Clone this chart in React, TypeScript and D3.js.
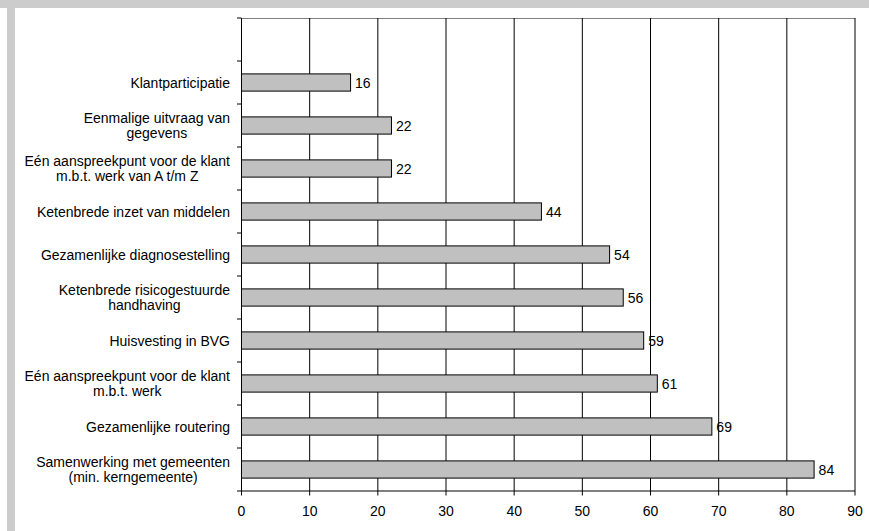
import React from "react";
import * as d3 from "d3";

const categories: string[] = [
  "Klantparticipatie",
  "Eenmalige uitvraag van\ngegevens",
  "Eén aanspreekpunt voor de klant\nm.b.t. werk van A t/m Z",
  "Ketenbrede inzet van middelen",
  "Gezamenlijke diagnosestelling",
  "Ketenbrede risicogestuurde\nhandhaving",
  "Huisvesting in BVG",
  "Eén aanspreekpunt voor de klant\nm.b.t. werk",
  "Gezamenlijke routering",
  "Samenwerking met gemeenten\n(min. kerngemeente)",
];
const values: number[] = [16, 22, 22, 44, 54, 56, 59, 61, 69, 84];
const xTicks: number[] = [0, 10, 20, 30, 40, 50, 60, 70, 80, 90];

const W = 869;
const H = 531;
const FONT = "'Liberation Sans', Arial, sans-serif";
const FS = 14;

let ctx: CanvasRenderingContext2D | null = null;
function textWidth(s: string): number {
  if (!ctx) {
    const c = document.createElement("canvas");
    ctx = c.getContext("2d");
  }
  if (!ctx) return s.length * 7;
  ctx.font = `${FS}px ${FONT}`;
  return ctx.measureText(s).width;
}

export default function App() {
  const left = 241.5;
  const right = 855;
  const top = 18;
  const bottom = 491;

  const x = d3.scaleLinear().domain([0, 90]).range([left, right]);
  const domain = ["__empty__", ...categories];
  const y = d3.scaleBand<string>().domain(domain).range([top, bottom]).padding(0);
  const bw = y.bandwidth();
  const barH = bw * 0.4;
  const boundaries = d3.range(domain.length + 1).map((i) => top + i * bw);
  const labelRight = 230;
  const lineH = 15;

  return (
    <svg
      width={W}
      height={H}
      style={{ position: "absolute", left: 0, top: 0, background: "#fff" }}
      fontFamily={FONT}
    >
      <rect x={0} y={0} width={W} height={H} fill="#fff" />
      <rect x={0} y={0} width={W} height={8} fill="#cccccc" />
      <rect x={7} y={0} width={8} height={H} fill="#cccccc" />

      {/* top border */}
      <line x1={left} x2={right} y1={top + 0.5} y2={top + 0.5} stroke="#808080" strokeWidth={1} />

      {/* vertical gridlines */}
      {xTicks.filter((t) => t > 0).map((t) => (
        <line key={"g" + t} x1={x(t)} x2={x(t)} y1={top} y2={bottom} stroke="#000" strokeWidth={1} />
      ))}

      {/* bars */}
      {categories.map((c, i) => {
        const yc = (y(c) as number) + bw / 2;
        return (
          <g key={"b" + i}>
            <rect
              x={x(0)}
              y={yc - barH / 2}
              width={x(values[i]) - x(0)}
              height={barH}
              fill="#c0c0c0"
              stroke="#000"
              strokeWidth={1}
            />
            <text x={x(values[i]) + 4.5} y={yc + 5} fontSize={FS} fill="#000">
              {values[i]}
            </text>
          </g>
        );
      })}

      {/* y axis */}
      <line x1={left} x2={left} y1={top} y2={bottom} stroke="#000" strokeWidth={1} />
      {boundaries.map((b, i) => (
        <line key={"yt" + i} x1={left - 4.5} x2={left} y1={b} y2={b} stroke="#000" strokeWidth={1} />
      ))}

      {/* x axis */}
      <line x1={left} x2={right} y1={bottom} y2={bottom} stroke="#000" strokeWidth={1} />
      {xTicks.map((t) => (
        <g key={"xt" + t}>
          <line x1={x(t)} x2={x(t)} y1={bottom} y2={bottom + 4.5} stroke="#000" strokeWidth={1} />
          <text x={x(t)} y={bottom + 25} fontSize={FS} textAnchor="middle" fill="#000">
            {t}
          </text>
        </g>
      ))}

      {/* category labels */}
      {categories.map((c, i) => {
        const lines = c.split("\n");
        const maxW = Math.max(...lines.map(textWidth));
        const cx = labelRight - maxW / 2;
        const yc = (y(c) as number) + bw / 2;
        const startY = yc - ((lines.length - 1) * lineH) / 2;
        return (
          <text key={"l" + i} fontSize={FS} textAnchor="middle" fill="#000">
            {lines.map((ln, j) => (
              <tspan key={j} x={cx} y={startY + j * lineH + 5}>
                {ln}
              </tspan>
            ))}
          </text>
        );
      })}
    </svg>
  );
}
